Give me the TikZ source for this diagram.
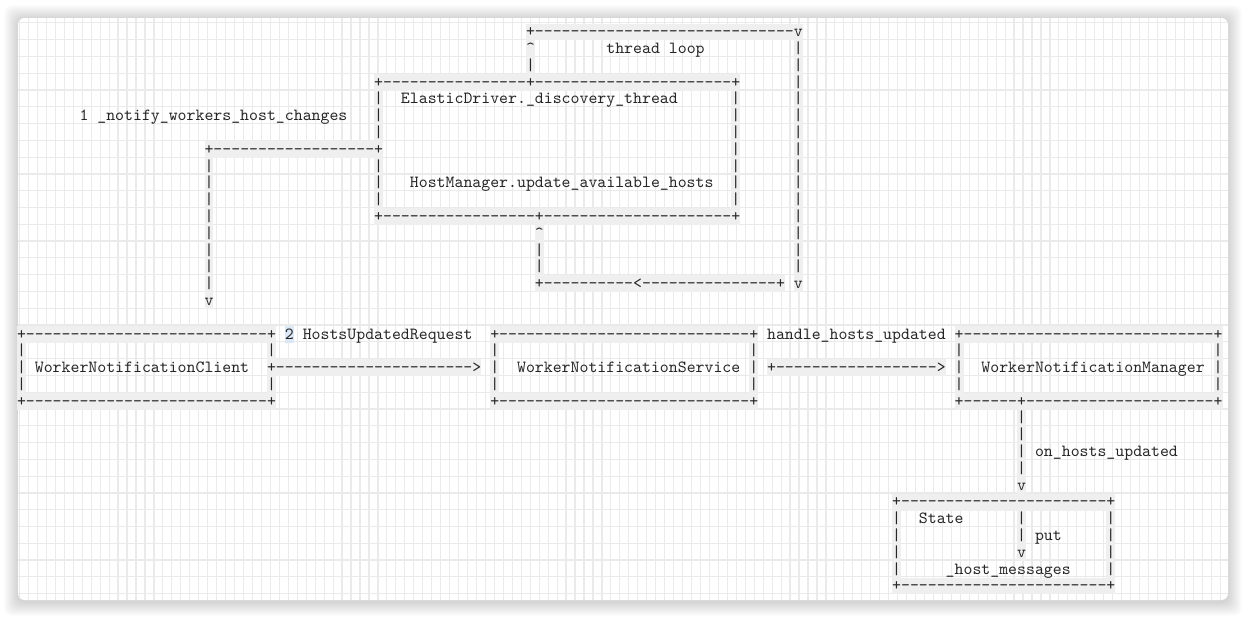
\documentclass[tikz,border=0pt]{standalone}
\usepackage{fontspec}
\newfontfamily\asciiface{lmmono10-regular.otf}
\definecolor{ink}{HTML}{262626}
\definecolor{hl}{HTML}{EFEFEF}
\definecolor{gridc}{HTML}{EAEAEA}
\definecolor{selblue}{HTML}{DCE8F6}
\ExplSyntaxOn
\NewDocumentCommand\DashRun{m}{\prg_replicate:nn{#1}{-\kern0pt}}
\ExplSyntaxOff
\newcommand\ArtRun[3]{\node[artrun,name=a#1x#2] at ({17.0+8.93*#2},{23.6+16.79*#1}) {\raisebox{-1.6pt}{#3}};}
\newcommand\TxtRun[3]{\node[txtrun,name=t#1x#2] at ({17.0+8.93*#2},{23.6+16.79*#1}) {\raisebox{-1.6pt}{#3}};}
\newcommand\SelRun[3]{\node[txtrun,fill=selblue,name=s#1x#2] at ({17.0+8.93*#2},{23.6+16.79*#1}) {\raisebox{-1.6pt}{#3}};}
\begin{document}
\begin{tikzpicture}[x=0.75pt,y=-0.75pt,
  txtrun/.style={anchor=north west,inner sep=0pt,outer sep=0pt,text height=8.3pt,text depth=4.29pt,
    font={\asciiface\fontsize{12.757pt}{15pt}\selectfont},text=ink},
  artrun/.style={txtrun,fill=hl},
  gridline/.style={draw=gridc,line width=0.9pt}]
\useasboundingbox (0,0) rectangle (1246,618);
\fill[white] (0,0) rectangle (1246,618);
% shadow
\foreach \i in {1,...,14}{
  \fill[black,opacity=0.011,rounded corners=6] ({18-\i},{19-\i}) rectangle ({1228+\i},{602+\i});
}
\fill[white,rounded corners=5] (18,18) rectangle (1228,600);
\begin{scope}
\clip[rounded corners=5] (18,18) rectangle (1228,600);
\foreach \k in {0,...,135}{ \draw[gridline] ({19.5+8.96*\k},18) -- ({19.5+8.96*\k},600); }
\foreach \r in {0,...,35}{ \draw[gridline] (18,{22.8+16.79*\r}) -- (1228,{22.8+16.79*\r}); }
\end{scope}
% row 0-2
\ArtRun{0}{57}{+\DashRun{29}v}
\ArtRun{1}{57}{\textasciicircum} \TxtRun{1}{66}{thread loop} \ArtRun{1}{87}{|}
\ArtRun{2}{57}{|} \ArtRun{2}{87}{|}
% ElasticDriver box
\ArtRun{3}{40}{+\DashRun{16}+\DashRun{22}+} \ArtRun{3}{87}{|}
\ArtRun{4}{40}{|} \TxtRun{4}{43}{ElasticDriver.\_discovery\_thread} \ArtRun{4}{80}{|} \ArtRun{4}{87}{|}
\TxtRun{5}{7}{1 \_notify\_workers\_host\_changes} \ArtRun{5}{40}{|} \ArtRun{5}{80}{|} \ArtRun{5}{87}{|}
\ArtRun{6}{40}{|} \ArtRun{6}{80}{|} \ArtRun{6}{87}{|}
\ArtRun{7}{21}{+\DashRun{18}+} \ArtRun{7}{80}{|} \ArtRun{7}{87}{|}
\ArtRun{8}{21}{|} \ArtRun{8}{40}{|} \ArtRun{8}{80}{|} \ArtRun{8}{87}{|}
\ArtRun{9}{21}{|} \ArtRun{9}{40}{|} \TxtRun{9}{44}{HostManager.update\_available\_hosts} \ArtRun{9}{80}{|} \ArtRun{9}{87}{|}
\ArtRun{10}{21}{|} \ArtRun{10}{40}{|} \ArtRun{10}{80}{|} \ArtRun{10}{87}{|}
\ArtRun{11}{21}{|} \ArtRun{11}{40}{+\DashRun{17}+\DashRun{21}+} \ArtRun{11}{87}{|}
\ArtRun{12}{21}{|} \ArtRun{12}{58}{\textasciicircum} \ArtRun{12}{87}{|}
\ArtRun{13}{21}{|} \ArtRun{13}{58}{|} \ArtRun{13}{87}{|}
\ArtRun{14}{21}{|} \ArtRun{14}{58}{|} \ArtRun{14}{87}{|}
\ArtRun{15}{21}{|} \ArtRun{15}{58}{+\DashRun{10}<\DashRun{15}+} \ArtRun{15}{87}{v}
\ArtRun{16}{21}{v}
% worker row
\ArtRun{18}{0}{+\DashRun{27}+} \SelRun{18}{30}{2} \TxtRun{18}{32}{HostsUpdatedRequest}
\ArtRun{18}{53}{+\DashRun{28}+} \TxtRun{18}{84}{handle\_hosts\_updated} \ArtRun{18}{105}{+\DashRun{28}+}
\foreach \rr in {19,21}{
  \foreach \cc in {0,28,53,82,105,134}{ \ArtRun{\rr}{\cc}{|} }
}
\ArtRun{20}{0}{|} \TxtRun{20}{2}{WorkerNotificationClient} \ArtRun{20}{28}{+\DashRun{22}>}
\ArtRun{20}{53}{|} \TxtRun{20}{56}{WorkerNotificationService} \ArtRun{20}{82}{|}
\ArtRun{20}{84}{+\DashRun{18}>} \ArtRun{20}{105}{|} \TxtRun{20}{108}{WorkerNotificationManager} \ArtRun{20}{134}{|}
\ArtRun{22}{0}{+\DashRun{27}+} \ArtRun{22}{53}{+\DashRun{28}+} \ArtRun{22}{105}{+\DashRun{6}+\DashRun{21}+}
% down to State
\ArtRun{23}{112}{|} \ArtRun{24}{112}{|}
\ArtRun{25}{112}{|} \TxtRun{25}{114}{on\_hosts\_updated}
\ArtRun{26}{112}{|} \ArtRun{27}{112}{v}
\ArtRun{28}{98}{+\DashRun{23}+}
\ArtRun{29}{98}{|} \TxtRun{29}{101}{State} \ArtRun{29}{112}{|} \ArtRun{29}{122}{|}
\ArtRun{30}{98}{|} \ArtRun{30}{112}{|} \TxtRun{30}{114}{put} \ArtRun{30}{122}{|}
\ArtRun{31}{98}{|} \ArtRun{31}{112}{v} \ArtRun{31}{122}{|}
\ArtRun{32}{98}{|} \TxtRun{32}{104}{\_host\_messages} \ArtRun{32}{122}{|}
\ArtRun{33}{98}{+\DashRun{23}+}
\end{tikzpicture}
\end{document}
